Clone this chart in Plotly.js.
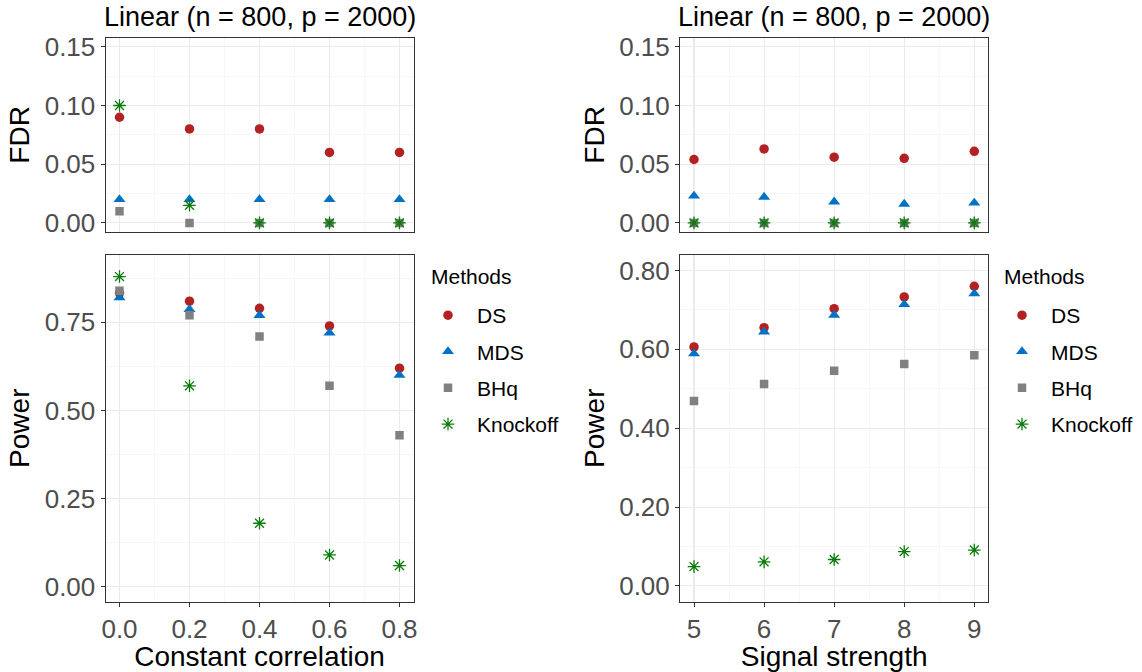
<!DOCTYPE html>
<html>
<head>
<meta charset="utf-8">
<script src="https://cdn.plot.ly/plotly-3.0.1.min.js"></script>
<style>html,body{margin:0;padding:0;background:#fff;}#chart{width:1142px;height:672px;}</style>
</head>
<body>
<div id="chart"></div>
<script>
// ---------- data ----------
const methods = ['DS', 'MDS', 'BHq', 'Knockoff'];
const corr = [0.0, 0.2, 0.4, 0.6, 0.8];
const signal = [5, 6, 7, 8, 9];
const panelTitle = 'Linear (n = 800, p = 2000)';
const legendTitle = 'Methods';

// FDR vs constant correlation
const fdrCorrDS = [0.09, 0.08, 0.08, 0.06, 0.06];
const fdrCorrMDS = [0.02, 0.02, 0.02, 0.02, 0.02];
const fdrCorrBHq = [0.01, 0.0, 0.0, 0.0, 0.0];
const fdrCorrKnockoff = [0.10, 0.015, 0.0, 0.0, 0.0];
// Power vs constant correlation
const powCorrDS = [0.833, 0.81, 0.79, 0.74, 0.62];
const powCorrMDS = [0.82, 0.787, 0.77, 0.72, 0.60];
const powCorrBHq = [0.84, 0.77, 0.71, 0.57, 0.43];
const powCorrKnockoff = [0.88, 0.57, 0.18, 0.09, 0.06];
// FDR vs signal strength
const fdrSigDS = [0.054, 0.063, 0.056, 0.055, 0.061];
const fdrSigMDS = [0.023, 0.022, 0.018, 0.016, 0.017];
const fdrSigBHq = [0, 0, 0, 0, 0];
const fdrSigKnockoff = [0, 0, 0, 0, 0];
// Power vs signal strength
const powSigDS = [0.606, 0.655, 0.703, 0.733, 0.76];
const powSigMDS = [0.589, 0.644, 0.687, 0.714, 0.741];
const powSigBHq = [0.469, 0.512, 0.546, 0.563, 0.585];
const powSigKnockoff = [0.049, 0.061, 0.067, 0.087, 0.091];

// ---------- styles ----------
const FONT = 'Liberation Sans, Arial, Helvetica, sans-serif';
const markerStyle = {
  DS: {symbol: 'circle', size: 9.5, color: '#B22222'},
  MDS: {symbol: 'triangle-up', size: 10.5, color: '#0072C6'},
  BHq: {symbol: 'square', size: 8.5, color: '#808080'},
  Knockoff: {symbol: 'asterisk-open', size: 10.5, color: '#0A7A0A', line: {color: '#0A7A0A', width: 1.3}}
};

function mk(m, x, y, xa, ya, legend, show) {
  const s = markerStyle[m];
  const marker = {symbol: s.symbol, size: s.size, color: s.color};
  if (s.line) marker.line = s.line; else marker.line = {width: 0};
  return {
    type: 'scatter', mode: 'markers', name: m, x: x, y: y,
    xaxis: xa, yaxis: ya, marker: marker,
    legend: legend, legendgroup: legend + m, showlegend: show,
    hoverinfo: 'x+y+name'
  };
}

const traces = [];
const fdrCorr = {DS: fdrCorrDS, MDS: fdrCorrMDS, BHq: fdrCorrBHq, Knockoff: fdrCorrKnockoff};
const powCorr = {DS: powCorrDS, MDS: powCorrMDS, BHq: powCorrBHq, Knockoff: powCorrKnockoff};
const fdrSig = {DS: fdrSigDS, MDS: fdrSigMDS, BHq: fdrSigBHq, Knockoff: fdrSigKnockoff};
const powSig = {DS: powSigDS, MDS: powSigMDS, BHq: powSigBHq, Knockoff: powSigKnockoff};
methods.forEach(m => traces.push(mk(m, corr, fdrCorr[m], 'x', 'y', 'legend', false)));
methods.forEach(m => traces.push(mk(m, corr, powCorr[m], 'x2', 'y2', 'legend', true)));
methods.forEach(m => traces.push(mk(m, signal, fdrSig[m], 'x3', 'y3', 'legend2', false)));
methods.forEach(m => traces.push(mk(m, signal, powSig[m], 'x4', 'y4', 'legend2', true)));

// ---------- layout ----------
const W = 1142, H = 672;
const px = (a, b) => [a / W, b / W];
const py = (top, bottom) => [1 - bottom / H, 1 - top / H];

const leftX = px(105.5, 413.5), rightX = px(680, 988.3);
const topY = py(38, 231.7), botY = py(254.7, 601.7);

const gridC = '#EBEBEB';
function xax(domain, anchor, range, dtick, fmt, labels, title) {
  return {
    domain: domain, anchor: anchor, range: range, dtick: dtick, tick0: 0,
    tickformat: fmt, showticklabels: labels, ticks: labels ? 'outside' : '',
    ticklen: 4, tickwidth: 1, tickcolor: '#333333',
    tickfont: {family: FONT, size: 26, color: '#4D4D4D'},
    showgrid: true, gridcolor: gridC, gridwidth: 1.1,
    minor: {dtick: dtick / 2, showgrid: true, gridcolor: '#F2F2F2', gridwidth: 0.6},
    showline: true, mirror: true, linecolor: '#333333', linewidth: 1,
    zeroline: false, automargin: false, fixedrange: true,
    title: labels ? {text: title, font: {family: FONT, size: 28, color: '#000'}, standoff: 8} : {text: ''}
  };
}
function yax(domain, anchor, range, dtick, title) {
  return {
    domain: domain, anchor: anchor, range: range, dtick: dtick, tick0: 0,
    tickformat: '.2f', ticks: 'outside', ticklen: 4, tickwidth: 1, tickcolor: '#333333',
    tickfont: {family: FONT, size: 26, color: '#4D4D4D'},
    showgrid: true, gridcolor: gridC, gridwidth: 1.1,
    minor: {dtick: dtick / 2, showgrid: true, gridcolor: '#F2F2F2', gridwidth: 0.6},
    showline: true, mirror: true, linecolor: '#333333', linewidth: 1,
    zeroline: false, automargin: false, fixedrange: true,
    title: {text: title, font: {family: FONT, size: 28, color: '#000'}, standoff: 6}
  };
}

const legendCommon = {
  orientation: 'v', xanchor: 'left', yanchor: 'top',
  bgcolor: 'rgba(0,0,0,0)', borderwidth: 0,
  font: {family: FONT, size: 21, color: '#000'},
  traceorder: 'grouped', tracegroupgap: 6, itemwidth: 48
};

function titleAnn(text, xc, yc, size) {
  return {text: text, xref: 'paper', yref: 'paper', x: xc, y: yc,
    xanchor: 'center', yanchor: 'middle', showarrow: false,
    font: {family: FONT, size: size, color: '#000'}};
}
function legTitleAnn(xl) {
  return {text: legendTitle, xref: 'paper', yref: 'paper', x: xl / W, y: 1 - 276 / H,
    xanchor: 'left', yanchor: 'middle', showarrow: false,
    font: {family: FONT, size: 21, color: '#000'}};
}

const layout = {
  width: W, height: H,
  margin: {l: 0, r: 0, t: 0, b: 0},
  paper_bgcolor: '#fff', plot_bgcolor: '#fff',
  font: {family: FONT},
  showlegend: true,
  xaxis: xax(leftX, 'y', [-0.04, 0.84], 0.2, '.1f', false, ''),
  yaxis: yax(topY, 'x', [-0.0075, 0.1575], 0.05, 'FDR'),
  xaxis2: xax(leftX, 'y2', [-0.04, 0.84], 0.2, '.1f', true, 'Constant correlation'),
  yaxis2: yax(botY, 'x2', [-0.0426, 0.942], 0.25, 'Power'),
  xaxis3: xax(rightX, 'y3', [4.8, 9.2], 1, 'd', false, ''),
  yaxis3: yax(topY, 'x3', [-0.0075, 0.1575], 0.05, 'FDR'),
  xaxis4: xax(rightX, 'y4', [4.8, 9.2], 1, 'd', true, 'Signal strength'),
  yaxis4: yax(botY, 'x4', [-0.04, 0.84], 0.2, 'Power'),
  legend: Object.assign({}, legendCommon, {x: 419 / W, y: 1 - 295 / H}),
  legend2: Object.assign({}, legendCommon, {x: 993 / W, y: 1 - 295 / H}),
  annotations: [
    titleAnn(panelTitle, (leftX[0] + leftX[1]) / 2, 1 - 17 / H, 27),
    titleAnn(panelTitle, (rightX[0] + rightX[1]) / 2, 1 - 17 / H, 27),
    legTitleAnn(429),
    legTitleAnn(1002)
  ]
};

Plotly.newPlot('chart', traces, layout, {displayModeBar: false, staticPlot: true});
</script>
</body>
</html>
